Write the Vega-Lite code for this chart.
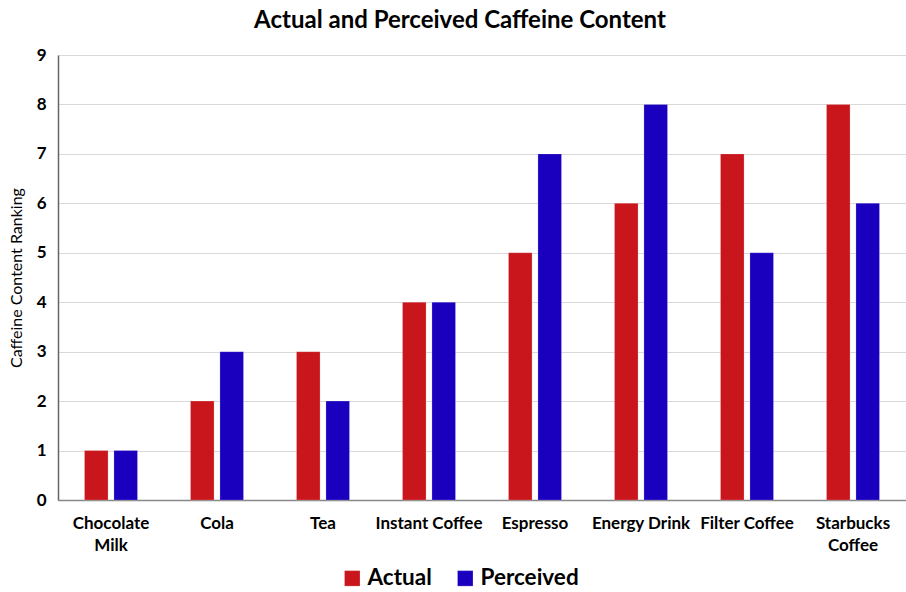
{
  "$schema": "https://vega.github.io/schema/vega-lite/v6.json",
  "width": 848,
  "height": 445,
  "padding": {"left": 8, "top": 9, "right": 0, "bottom": 0},
  "background": "white",
  "title": {
    "text": "Actual and Perceived Caffeine Content",
    "font": "Lato",
    "fontSize": 24,
    "fontWeight": "bold",
    "color": "#000000",
    "anchor": "middle",
    "dx": -22,
    "offset": 13
  },
  "data": {
    "values": [
      {"drink": "Chocolate Milk", "series": "Actual", "rank": 1},
      {"drink": "Chocolate Milk", "series": "Perceived", "rank": 1},
      {"drink": "Cola", "series": "Actual", "rank": 2},
      {"drink": "Cola", "series": "Perceived", "rank": 3},
      {"drink": "Tea", "series": "Actual", "rank": 3},
      {"drink": "Tea", "series": "Perceived", "rank": 2},
      {"drink": "Instant Coffee", "series": "Actual", "rank": 4},
      {"drink": "Instant Coffee", "series": "Perceived", "rank": 4},
      {"drink": "Espresso", "series": "Actual", "rank": 5},
      {"drink": "Espresso", "series": "Perceived", "rank": 7},
      {"drink": "Energy Drink", "series": "Actual", "rank": 6},
      {"drink": "Energy Drink", "series": "Perceived", "rank": 8},
      {"drink": "Filter Coffee", "series": "Actual", "rank": 7},
      {"drink": "Filter Coffee", "series": "Perceived", "rank": 5},
      {"drink": "Starbucks Coffee", "series": "Actual", "rank": 8},
      {"drink": "Starbucks Coffee", "series": "Perceived", "rank": 6}
    ]
  },
  "mark": {"type": "bar"},
  "encoding": {
    "x": {
      "field": "drink",
      "type": "nominal",
      "sort": null,
      "scale": {"paddingInner": 0.5, "paddingOuter": 0.25},
      "axis": {
        "title": null,
        "labelAngle": 0,
        "labelFont": "Lato",
        "labelFontSize": 17,
        "labelFontWeight": "bold",
        "labelColor": "#000000",
        "labelPadding": 15,
        "labelLineHeight": 22,
        "ticks": false,
        "domainColor": "#888888",
        "domainWidth": 1.5,
        "labelExpr": "datum.label == 'Chocolate Milk' ? ['Chocolate', 'Milk'] : datum.label == 'Starbucks Coffee' ? ['Starbucks', 'Coffee'] : datum.label"
      }
    },
    "xOffset": {
      "field": "series",
      "type": "nominal",
      "scale": {"paddingInner": 0.2, "paddingOuter": 0}
    },
    "y": {
      "field": "rank",
      "type": "quantitative",
      "scale": {"domain": [0, 9], "nice": false},
      "axis": {
        "title": "Caffeine Content  Ranking",
        "titleFont": "Lato",
        "titleFontSize": 16,
        "titleFontWeight": "normal",
        "titleColor": "#000000",
        "titlePadding": 12,
        "values": [0, 1, 2, 3, 4, 5, 6, 7, 8, 9],
        "labelOverlap": false,
        "labelFont": "Lato",
        "labelFontSize": 17,
        "labelFontWeight": "bold",
        "labelColor": "#000000",
        "labelPadding": 12,
        "ticks": false,
        "grid": true,
        "gridColor": "#d9d9d9",
        "gridWidth": 1,
        "domainColor": "#666666",
        "domainWidth": 1.5
      }
    },
    "color": {
      "field": "series",
      "type": "nominal",
      "scale": {"domain": ["Actual", "Perceived"], "range": ["#C8161C", "#1A00BE"]},
      "legend": {
        "title": null,
        "orient": "none",
        "legendX": 283,
        "legendY": 512,
        "direction": "horizontal",
        "symbolType": "square",
        "symbolSize": 240,
        "symbolStrokeWidth": 0,
        "labelFont": "Lato",
        "labelFontSize": 22.5,
        "labelFontWeight": "bold",
        "labelColor": "#000000",
        "columnPadding": 22
      }
    }
  },
  "config": {
    "view": {"stroke": null},
    "bar": {"stroke": "#ffffff", "strokeWidth": 0.5, "strokeOpacity": 0.4}
  }
}
